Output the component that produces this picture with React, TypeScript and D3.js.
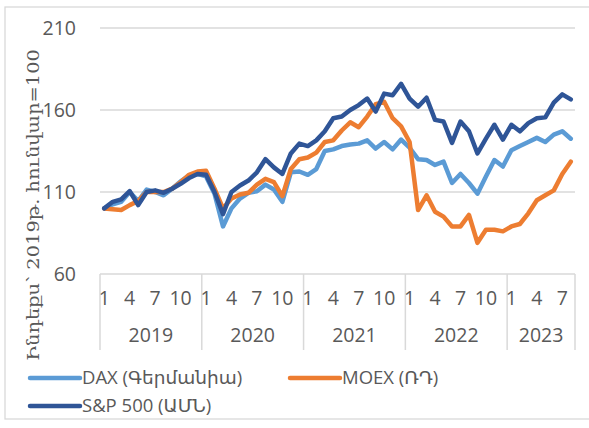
import React from 'react';
import * as d3 from 'd3';

// Monthly index values, Jan 2019 = 100
const years = [2019, 2020, 2021, 2022, 2023];
const monthsPerYear = [12, 12, 12, 12, 8];
const monthTickLabels = ['1', '4', '7', '10'];
const yTicks = [60, 110, 160, 210];

const dax = [
    100, 102.5, 104, 110, 104.5, 111.5, 110, 108, 112, 116.5, 120, 121,
    119.5, 109, 89, 100, 106, 109.5, 110.5, 114.5, 111.5, 104, 122, 122.5,
    120.5, 124, 135, 136, 138, 139, 139.5, 141.5, 136.5, 140.5, 136, 142,
    137, 130, 129.5, 126.5, 128.5, 115.5, 121, 115.5, 109, 119.5, 129.5, 125.5,
    135.5, 138, 140.5, 143, 140.5, 145, 147, 142.5
];
const moex = [
    100, 99.5, 99, 102, 104.5, 110, 110, 110, 112, 116, 120.5, 122.5,
    123, 112, 100, 106, 108.5, 109.5, 114.5, 118, 116, 107.5, 124, 130,
    131, 134, 140.5, 141.5, 147.5, 152.5, 149.5, 156, 163.5, 165, 155, 150,
    140.5, 99, 108, 98, 95, 89, 89, 96, 79, 87, 87, 86,
    89, 90.5, 97, 105, 108, 111, 121, 128.5
];
const sp500 = [
    100, 104, 105.5, 110.5, 102, 110, 111, 109.5, 112, 115, 118.5, 121,
    120.5, 110, 96.5, 110, 114, 117, 122, 130, 125, 121, 133.5, 139.5,
    138, 141.5, 147, 155, 156, 160, 163, 167, 159, 170, 169, 176,
    167, 162, 167.5, 154, 153, 140, 153, 147, 133.5, 142.5, 151, 142,
    151, 147, 152, 155, 155.5, 164.5, 169.5, 166.5
];

const series = [
    { name: 'DAX (Գերմանիա)', values: dax, color: '#5B9BD5' },
    { name: 'MOEX (ՌԴ)', values: moex, color: '#ED7D31' },
    { name: 'S&P 500 (ԱՄՆ)', values: sp500, color: '#2F5597' }
];

const yTitle = 'Ինդեքս՝ 2019թ. հունվար=100';

const font = "'Open Sans', 'DejaVu Sans', sans-serif";
const textColor = '#595959';
const gridColor = '#d9d9d9';

const App: React.FC = () => {
    const width = 589;
    const height = 428;
    const plot = { left: 100, right: 575, top: 28, bottom: 274 };

    // one category per month
    const categories: { year: number; month: number }[] = [];
    years.forEach((yr, i) => {
        for (let m = 1; m <= monthsPerYear[i]; m++) categories.push({ year: yr, month: m });
    });

    const xScale = d3.scaleBand<number>()
        .domain(categories.map((_, i) => i))
        .range([plot.left, plot.right]);

    const yScale = d3.scaleLinear()
        .domain([60, 210])
        .range([plot.bottom, plot.top]);

    const cx = (i: number) => (xScale(i) as number) + xScale.bandwidth() / 2;

    const line = d3.line<number>()
        .x((_, i) => cx(i))
        .y(d => yScale(d));

    // year boundaries
    let start = 0;
    const yearGroups = years.map((yr, i) => {
        const x0 = xScale(start) as number;
        const x1 = x0 + monthsPerYear[i] * xScale.bandwidth();
        start += monthsPerYear[i];
        return { yr, x0, x1 };
    });

    return (
        <div style={{ position: 'absolute', left: 0, top: 0 }}>
            <svg width={width} height={height} style={{ display: 'block', background: '#fff' }}>
                {/* chart border */}
                <rect x={5} y={7} width={600} height={412} fill="#fff" stroke={gridColor} strokeWidth={1.3} />

                {/* grid + y labels */}
                {yTicks.map(t => (
                    <g key={t}>
                        <line x1={plot.left} x2={plot.right} y1={yScale(t)} y2={yScale(t)}
                            stroke={gridColor} strokeWidth={1.5} />
                        <text x={76} y={yScale(t)} dy="0.35em" textAnchor="end"
                            fontFamily={font} fontSize={19.5} fill={textColor}>{t}</text>
                    </g>
                ))}

                {/* y title */}
                <text transform={`translate(33,${205}) rotate(-90)`} textAnchor="middle" dy="0.35em"
                    fontFamily="'DejaVu Serif', serif" fontSize={17} fill={textColor}
                    textLength={312} lengthAdjust="spacingAndGlyphs">{yTitle}</text>

                {/* category axis: year separators */}
                {yearGroups.map(g => (
                    <line key={'s' + g.yr} x1={g.x0} x2={g.x0} y1={plot.bottom} y2={350}
                        stroke={gridColor} strokeWidth={1.5} />
                ))}
                <line x1={plot.right} x2={plot.right} y1={plot.bottom} y2={350}
                    stroke={gridColor} strokeWidth={1.5} />

                {/* month labels */}
                {categories.map((c, i) => monthTickLabels.includes(String(c.month)) ? (
                    <text key={'m' + i} x={cx(i)} y={298} dy="0.35em" textAnchor="middle"
                        fontFamily={font} fontSize={19.5} fill={textColor}>{c.month}</text>
                ) : null)}

                {/* year labels */}
                {yearGroups.map(g => (
                    <text key={'y' + g.yr} x={(g.x0 + g.x1) / 2} y={335} dy="0.35em" textAnchor="middle"
                        fontFamily={font} fontSize={19.5} fill={textColor}>{g.yr}</text>
                ))}

                {/* series */}
                {series.map(s => (
                    <path key={s.name} d={line(s.values) as string} fill="none" stroke={s.color}
                        strokeWidth={4.5} strokeLinejoin="round" strokeLinecap="round" />
                ))}

                {/* legend */}
                {series.map((s, i) => {
                    const lx = i === 1 ? 290 : 30;
                    const ly = i === 2 ? 406 : 378;
                    return (
                        <g key={'l' + s.name}>
                            <line x1={lx} x2={lx + 50} y1={ly} y2={ly} stroke={s.color}
                                strokeWidth={4.5} strokeLinecap="round" />
                            <text x={lx + 52} y={ly} dy="0.35em" fontFamily={font} fontSize={18.5}
                                fill={textColor}>{s.name}</text>
                        </g>
                    );
                })}
            </svg>
        </div>
    );
};

export default App;
